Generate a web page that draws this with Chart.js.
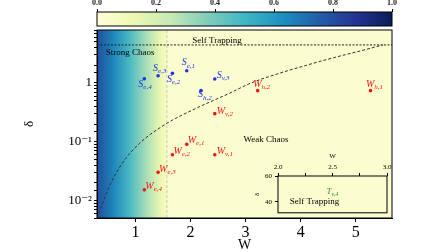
<!DOCTYPE html>
<html lang="en">

<head>
    <meta charset="UTF-8">
    <title>Chaos regimes</title>
    <script src="https://cdn.jsdelivr.net/npm/chart.js"></script>
    <style>
        body { margin: 0; background: #fff; }
        #wrap { position: relative; width: 448px; height: 252px; }
        canvas { position: absolute; }
    </style>
</head>

<body>
    <div id="wrap">
        <canvas id="mainChart" width="448" height="252" style="left:0;top:0"></canvas>
        <canvas id="cbarChart" width="448" height="30" style="left:0;top:0"></canvas>
        <canvas id="insetChart" width="155" height="72" style="left:240px;top:148px"></canvas>
    </div>

    <script>
        // values
        const sLabels = ['e,4', 'e,3', 'e,2', 'e,1', 'v,3', 'h,2'];
        const sW = [1.16, 1.41, 1.67, 1.93, 2.44, 2.19];
        const sDelta = [1.18, 1.33, 1.46, 1.62, 1.17, 0.74];

        const wLabels = ['h,2', 'h,1', 'v,2', 'e,1', 'e,2', 'v,1', 'e,3', 'e,4'];
        const wW = [3.22, 5.27, 2.44, 1.93, 1.67, 2.44, 1.41, 1.16];
        const wDelta = [0.74, 0.74, 0.30, 0.090, 0.060, 0.060, 0.030, 0.0151];

        // border between strong and weak chaos
        const curveW = [0.30, 0.33, 0.52, 0.76, 1.07, 1.55, 2.10, 2.71, 3.10, 3.60, 4.10, 4.60, 5.10, 5.50];
        const curveDelta = [0.0050, 0.0059, 0.017, 0.043, 0.093, 0.20, 0.37, 0.67, 1.0, 1.45, 2.0, 2.7, 3.55, 4.47];

        const trapDelta = 4.45;
        const splitW = 1.57;

        // shading of the background (colour bar value) along W
        const shadeW = [0.30, 0.60, 0.90, 1.20, 1.45, 1.57, 1.60, 5.66];
        const shadeLevel = [0.80, 0.65, 0.48, 0.30, 0.13, 0.06, 0.03, 0.03];

        const xTicks = [1, 2, 3, 4, 5];
        const yTickVals = [1, 0.1, 0.01];
        const yTickLabels = ['1', '10⁻¹', '10⁻²'];
        const cbTicks = [0, 0.2, 0.4, 0.6, 0.8, 1.0];

        const noteText = ['Self Trapping', 'Strong Chaos', 'Weak Chaos'];
        const noteW = [2.48, 0.90, 3.37];
        const noteDelta = [5.3, 3.3, 0.109];

        // inset
        const insetXTicks = [2.0, 2.25, 2.5, 2.75, 3.0];
        const insetXLabels = ['2.0', '', '2.5', '', '3.0'];
        const insetYTicks = [40, 60];
        const tLabels = ['v,4'];
        const tW = [2.50];
        const tDelta = [48.4];
        const insetNote = 'Self Trapping';
        const insetNoteW = 2.335;
        const insetNoteDelta = 40.0;

        const X_MIN = 0.3, X_MAX = 5.66, Y_MIN = 0.005, Y_MAX = 8;
        const SERIF = '"Liberation Serif", "DejaVu Serif", serif';

        const cmap = ['#ffffd9', '#edf8b1', '#c7e9b4', '#7fcdbb', '#41b6c4', '#1d91c0', '#225ea8', '#253494', '#081d58'];
        function hex(c) { return [1, 3, 5].map(i => parseInt(c.substr(i, 2), 16)); }
        function ylgnbu(t) {
            const p = Math.max(0, Math.min(1, t)) * (cmap.length - 1);
            const i = Math.min(cmap.length - 2, Math.floor(p));
            const f = p - i;
            const a = hex(cmap[i]), b = hex(cmap[i + 1]);
            const c = a.map((v, k) => Math.round(v + (b[k] - v) * f));
            return 'rgb(' + c.join(',') + ')';
        }

        // label offsets (pixels) relative to the marker
        const labelOffset = {
            'S e,4': [-6, 8], 'S e,3': [-5, -5], 'S e,2': [-5.5, 8.5], 'S e,1': [-5, -5.5],
            'S v,3': [2, -1], 'S h,2': [-3, 6.5],
            'W h,2': [-4.5, -4], 'W h,1': [-4.5, -4], 'W v,2': [2, 0], 'W e,1': [1, -1.5],
            'W e,2': [1, -1], 'W v,1': [2, -1], 'W e,3': [1, -0.5], 'W e,4': [1, -1]
        };

        function drawSub(ctx, x, y, main, sub, color, size) {
            ctx.fillStyle = color;
            ctx.textBaseline = 'alphabetic';
            ctx.textAlign = 'left';
            ctx.font = 'italic ' + size + 'px ' + SERIF;
            ctx.fillText(main, x, y);
            const w = ctx.measureText(main).width;
            ctx.font = 'italic ' + Math.round(size * 0.68) + 'px ' + SERIF;
            ctx.fillText(sub, x + w, y + size * 0.25);
        }

        const BLUE = '#1a33ee';
        const RED = '#f01515';

        const mainPlugin = {
            id: 'mainDeco',
            beforeDraw(chart) {
                const { ctx, chartArea: a, scales: { x } } = chart;
                const g = ctx.createLinearGradient(a.left, 0, a.right, 0);
                shadeW.forEach((w, i) => {
                    const p = (x.getPixelForValue(w) - a.left) / (a.right - a.left);
                    g.addColorStop(Math.min(1, Math.max(0, p)), ylgnbu(shadeLevel[i]));
                });
                ctx.save();
                ctx.fillStyle = g;
                ctx.fillRect(a.left, a.top, a.width, a.height);
                ctx.restore();
            },
            afterDatasetsDraw(chart) {
                const { ctx, scales: { x, y } } = chart;
                ctx.save();
                sLabels.forEach((l, i) => {
                    const o = labelOffset['S ' + l];
                    drawSub(ctx, x.getPixelForValue(sW[i]) + o[0], y.getPixelForValue(sDelta[i]) + o[1], 'S', l, BLUE, 10);
                });
                wLabels.forEach((l, i) => {
                    const o = labelOffset['W ' + l];
                    drawSub(ctx, x.getPixelForValue(wW[i]) + o[0], y.getPixelForValue(wDelta[i]) + o[1], 'W', l, RED, 10);
                });
                ctx.fillStyle = '#000';
                ctx.font = '9px ' + SERIF;
                ctx.textAlign = 'center';
                ctx.textBaseline = 'middle';
                noteText.forEach((t, i) => {
                    ctx.fillText(t, x.getPixelForValue(noteW[i]), y.getPixelForValue(noteDelta[i]));
                });
                ctx.restore();
            },
            afterDraw(chart) {
                const { ctx, chartArea: a } = chart;
                ctx.save();
                ctx.strokeStyle = '#000';
                ctx.lineWidth = 1;
                ctx.strokeRect(a.left, a.top, a.width, a.height);
                ctx.restore();
            }
        };

        new Chart(document.getElementById('mainChart'), {
            type: 'scatter',
            data: {
                datasets: [
                    {
                        data: curveW.map((w, i) => ({ x: w, y: curveDelta[i] })),
                        showLine: true, borderColor: '#333', borderWidth: 1, borderDash: [3, 2],
                        pointRadius: 0, cubicInterpolationMode: 'monotone'
                    },
                    {
                        data: [{ x: X_MIN, y: trapDelta }, { x: X_MAX, y: trapDelta }],
                        showLine: true, borderColor: '#222', borderWidth: 1, borderDash: [2, 1.5], pointRadius: 0
                    },
                    {
                        data: [{ x: splitW, y: Y_MIN }, { x: splitW, y: Y_MAX }],
                        showLine: true, borderColor: '#c8c8b4', borderWidth: 1, borderDash: [3, 2], pointRadius: 0
                    },
                    {
                        data: sW.map((w, i) => ({ x: w, y: sDelta[i] })),
                        backgroundColor: BLUE, borderColor: BLUE, pointRadius: 1.8, borderWidth: 0
                    },
                    {
                        data: wW.map((w, i) => ({ x: w, y: wDelta[i] })),
                        backgroundColor: RED, borderColor: RED, pointRadius: 1.8, borderWidth: 0
                    }
                ]
            },
            options: {
                responsive: false,
                animation: false,
                layout: { padding: { top: 30, right: 56, left: 0, bottom: 0 } },
                plugins: { legend: { display: false }, tooltip: { enabled: false } },
                scales: {
                    x: {
                        type: 'linear', min: X_MIN, max: X_MAX,
                        afterBuildTicks: s => { s.ticks = xTicks.map(v => ({ value: v })); },
                        afterFit: s => { s.height = 34; },
                        grid: { drawOnChartArea: false, drawTicks: true, tickLength: 4, color: '#000' },
                        border: { display: true, color: '#000' },
                        ticks: { font: { family: SERIF, size: 16 }, color: '#000', padding: 1 },
                        title: { display: true, text: 'W', font: { family: SERIF, size: 14, lineHeight: 1 }, color: '#000', padding: 0 }
                    },
                    y: {
                        type: 'logarithmic', min: Y_MIN, max: Y_MAX,
                        afterFit: s => { s.width = 97; },
                        grid: { drawOnChartArea: false, drawTicks: true, tickLength: 3, color: '#000' },
                        border: { display: true, color: '#000' },
                        ticks: {
                            autoSkip: false,
                            font: { family: SERIF, size: 13 }, color: '#000', padding: 2,
                            callback: v => {
                                const k = yTickVals.findIndex(t => Math.abs(v - t) / t < 1e-6);
                                return k >= 0 ? yTickLabels[k] : '';
                            }
                        },
                        title: { display: true, text: 'δ', font: { family: SERIF, size: 13 }, color: '#000', padding: { top: 22 } }
                    }
                }
            },
            plugins: [mainPlugin]
        });

        // colour bar
        const cbarPlugin = {
            id: 'cbar',
            beforeDraw(chart) {
                const { ctx, chartArea: a } = chart;
                const g = ctx.createLinearGradient(a.left, 0, a.right, 0);
                cmap.forEach((c, i) => g.addColorStop(i / (cmap.length - 1), c));
                ctx.save();
                ctx.fillStyle = g;
                ctx.fillRect(a.left, a.top, a.width, a.height);
                ctx.strokeStyle = '#000';
                ctx.lineWidth = 1;
                ctx.strokeRect(a.left, a.top, a.width, a.height);
                ctx.restore();
            }
        };

        new Chart(document.getElementById('cbarChart'), {
            type: 'scatter',
            data: { datasets: [{ data: [] }] },
            options: {
                responsive: false,
                animation: false,
                layout: { padding: { top: 0, right: 56, left: 97, bottom: 4 } },
                plugins: { legend: { display: false }, tooltip: { enabled: false } },
                scales: {
                    x: {
                        type: 'linear', position: 'top', min: 0, max: 1,
                        afterBuildTicks: s => { s.ticks = cbTicks.map(v => ({ value: v })); },
                        afterFit: s => { s.height = 12; },
                        grid: { drawOnChartArea: false, drawTicks: true, tickLength: 3, color: '#000' },
                        border: { display: false },
                        ticks: { font: { family: SERIF, size: 8, weight: 'bold' }, color: '#222', padding: 1, callback: v => v.toFixed(1) }
                    },
                    y: { display: false, min: 0, max: 1 }
                }
            },
            plugins: [cbarPlugin]
        });

        // inset
        const insetPlugin = {
            id: 'insetDeco',
            beforeDraw(chart) {
                const { ctx, chartArea: a } = chart;
                ctx.save();
                ctx.fillStyle = ylgnbu(0.03);
                ctx.fillRect(a.left, a.top, a.width, a.height);
                ctx.restore();
            },
            afterDraw(chart) {
                const { ctx, chartArea: a, scales: { x, y } } = chart;
                ctx.save();
                ctx.strokeStyle = '#000';
                ctx.lineWidth = 1;
                ctx.strokeRect(a.left, a.top, a.width, a.height);
                tLabels.forEach((l, i) => {
                    drawSub(ctx, x.getPixelForValue(tW[i]) - 6, y.getPixelForValue(tDelta[i]) + 3, 'T', l, '#2e9a2e', 9);
                });
                ctx.fillStyle = '#000';
                ctx.font = '9px ' + SERIF;
                ctx.textAlign = 'center';
                ctx.textBaseline = 'middle';
                ctx.fillText(insetNote, x.getPixelForValue(insetNoteW), y.getPixelForValue(insetNoteDelta));
                ctx.restore();
            }
        };

        new Chart(document.getElementById('insetChart'), {
            type: 'scatter',
            data: { datasets: [{ data: tW.map((w, i) => ({ x: w, y: tDelta[i] })), pointRadius: 0 }] },
            options: {
                responsive: false,
                animation: false,
                layout: { padding: { top: 0, right: 8, left: 0, bottom: 7 } },
                plugins: { legend: { display: false }, tooltip: { enabled: false } },
                scales: {
                    x: {
                        type: 'linear', position: 'top', min: 2, max: 3,
                        afterBuildTicks: s => { s.ticks = insetXTicks.map(v => ({ value: v })); },
                        afterFit: s => { s.height = 28; },
                        grid: { drawOnChartArea: false, drawTicks: true, tickLength: 3, color: '#000' },
                        border: { display: false },
                        ticks: {
                            autoSkip: false, maxRotation: 0, font: { family: SERIF, size: 7 }, color: '#000', padding: 2,
                            callback: (v, i) => insetXLabels[i]
                        },
                        title: { display: true, text: 'W', font: { family: SERIF, size: 7 }, color: '#000', padding: { top: 4 } }
                    },
                    y: {
                        type: 'linear', min: 31.5, max: 60,
                        afterBuildTicks: s => { s.ticks = insetYTicks.map(v => ({ value: v })); },
                        afterFit: s => { s.width = 38; },
                        grid: { drawOnChartArea: false, drawTicks: true, tickLength: 3, color: '#000' },
                        border: { display: false },
                        ticks: { font: { family: SERIF, size: 7 }, color: '#000', padding: 3 },
                        title: { display: true, text: 'δ', font: { family: SERIF, size: 7 }, color: '#000', padding: { top: 13 } }
                    }
                }
            },
            plugins: [insetPlugin]
        });
    </script>
</body>

</html>
